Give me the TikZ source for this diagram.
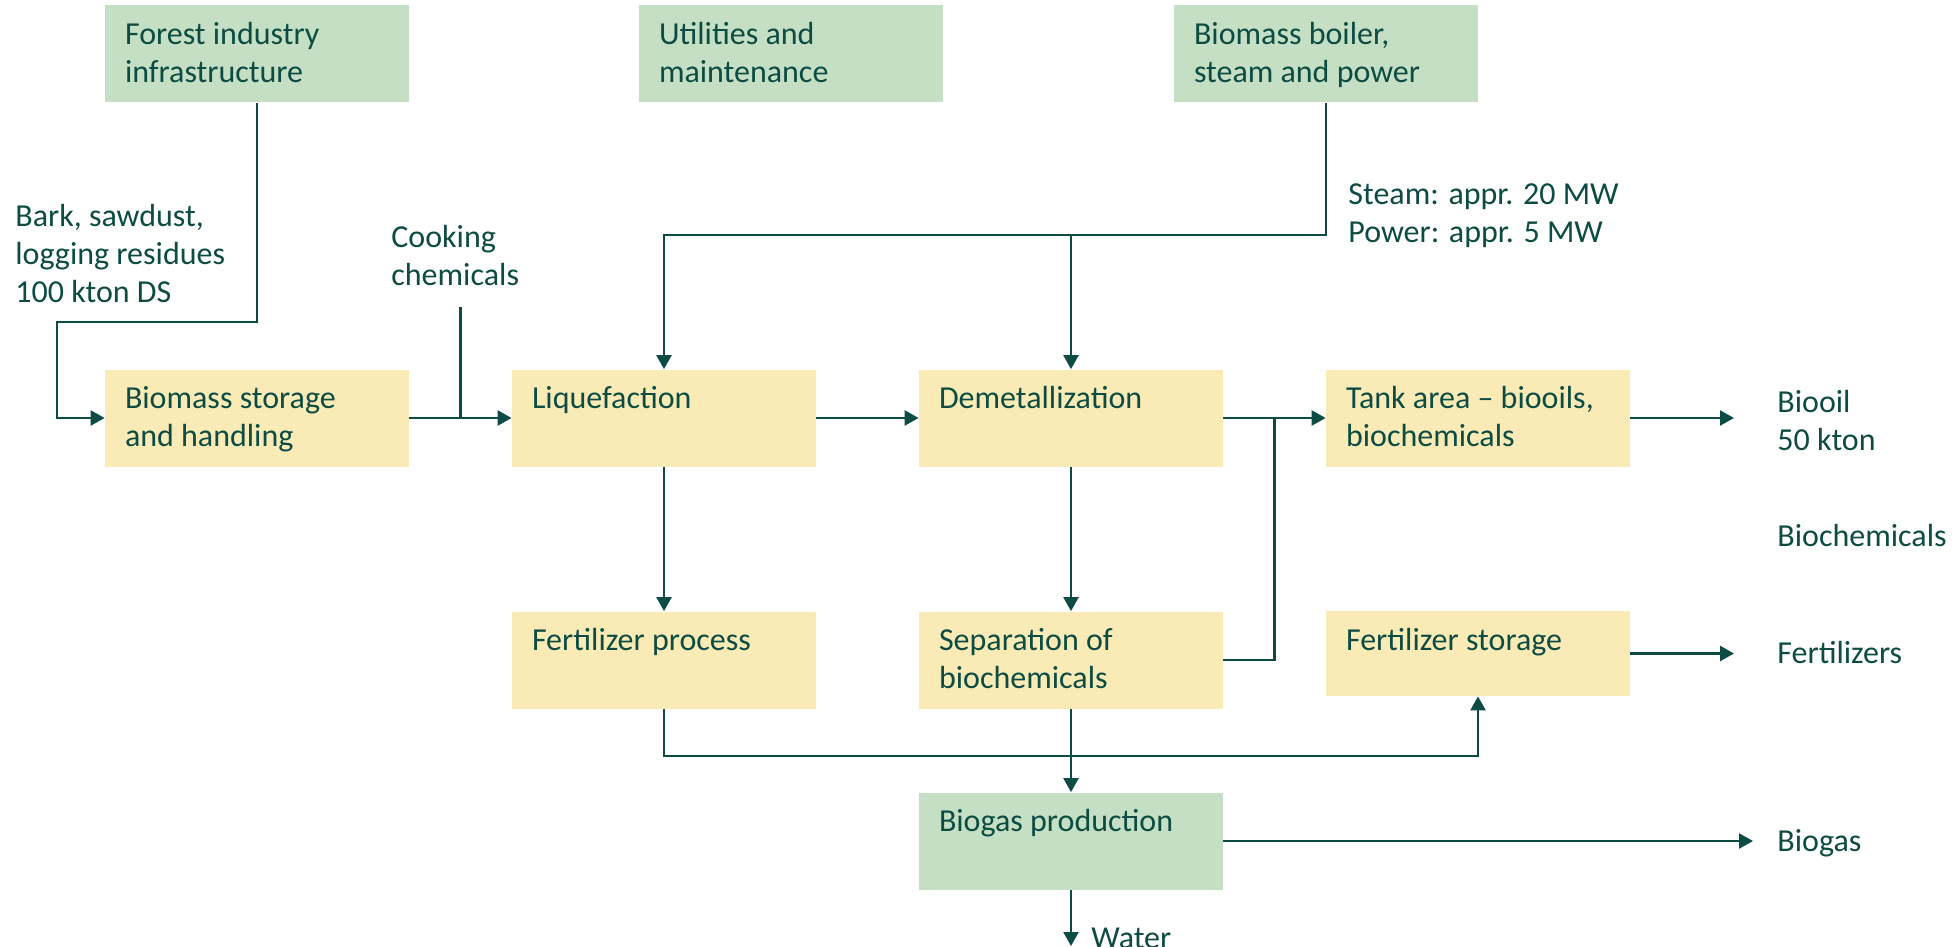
\documentclass[tikz,border=0pt]{standalone}
\usepackage{fontspec}
\setmainfont{Carlito}
\usetikzlibrary{arrows.meta,calc}
\definecolor{LineClr}{RGB}{12,76,68}
\definecolor{TextClr}{RGB}{12,76,66}
\definecolor{SiteClr}{RGB}{197,223,196}
\definecolor{ProcClr}{RGB}{249,234,182}

\tikzset{
  box/.style={minimum width=152pt,minimum height=48.5pt,inner sep=0pt,draw=none},
  site/.style={box,fill=SiteClr},
  proc/.style={box,fill=ProcClr},
  txt/.style={text=TextClr,align=left,inner sep=0pt,font=\fontsize{16}{19}\selectfont},
  intxt/.style={txt,anchor=north west,xshift=10pt,yshift=-8.5pt},
  line/.style={draw=LineClr,line width=1.2pt},
  flow/.style={line,-{Triangle[length=7pt,width=7.5pt]}},
}

\begin{document}
\begin{tikzpicture}[x=0.5pt,y=-0.5pt]
\useasboundingbox (0,0) rectangle (1959,947);

\node[site,label={[intxt]north west:{Forest industry\\infrastructure}}] (forest) at (257,54) {};
\node[site,label={[intxt]north west:{Utilities and\\maintenance}}] (util) at (791,54) {};
\node[site,label={[intxt]north west:{Biomass boiler,\\steam and power}}] (boiler) at (1326,54) {};

\node[proc,label={[intxt]north west:{Biomass storage\\and handling}}] (store) at (257,418) {};
\node[proc,label={[intxt]north west:{Liquefaction}}] (liq) at (664,418) {};
\node[proc,label={[intxt]north west:{Demetallization}}] (demet) at (1071,418) {};
\node[proc,label={[intxt]north west:{Tank area -- biooils,\\biochemicals}}] (tank) at (1478,418) {};

\node[proc,label={[intxt]north west:{Fertilizer process}}] (fproc) at (664,660) {};
\node[proc,label={[intxt]north west:{Separation of\\biochemicals}}] (sep) at (1071,660) {};
\node[proc,minimum height=42.5pt,label={[intxt]north west:{Fertilizer storage}}] (fstore) at (1478,653.5) {};
\node[site,label={[intxt]north west:{Biogas production}}] (biogas) at (1071,841) {};

\node[txt,anchor=west] (bark) at (15,254) {Bark, sawdust,\\logging residues\\100 kton DS};
\node[txt,anchor=west] (cook) at (391,256) {Cooking\\chemicals};
\node[txt,anchor=west] (steam) at (1348,216) {Steam: appr. 20 MW\\Power: appr. 5 MW};
\node[txt,anchor=west] (oil) at (1777,421) {Biooil\\50 kton};
\node[txt,anchor=west] (chem) at (1777,536) {Biochemicals};
\node[txt,anchor=west] (fert) at (1777,653) {Fertilizers};
\node[txt,anchor=west] (gas) at (1777,843) {Biogas};
\node[txt,anchor=west] (water) at (1091,938) {Water};

\coordinate (fbend) at (57,322);
\coordinate (sbus) at (0,235);
\coordinate (waterEnd) at (1071,946);

\draw[flow] (forest.south) |- (fbend) |- (store.west);
\draw[flow] (store.east) -- (liq.west);
\draw[line] ($(store.east)!0.5!(liq.west)$) -- ++(0,-111);

\draw[flow] (boiler.south) |- (liq.north |- sbus) -- (liq.north);
\draw[flow] (demet.north |- sbus) -- (demet.north);

\draw[flow] (liq.east) -- (demet.west);
\draw[flow] (demet.east) -- (tank.west);
\draw[line] (sep.east) -| ($(demet.east)!0.5!(tank.west)$);
\draw[flow] (liq.south) -- (fproc.north);
\draw[flow] (demet.south) -- (sep.north);

\draw[flow] (fproc.south) -- ++(0,47) -| (fstore.south);
\draw[flow] (sep.south) -- (biogas.north);
\draw[flow] (biogas.south) -- (waterEnd);

\draw[flow,shorten >=21.5pt] (tank.east) -- (tank.east -| oil.west);
\draw[flow,shorten >=21.5pt] (fstore.east) -- (fstore.east -| fert.west);
\draw[flow,shorten >=12pt] (biogas.east) -- (biogas.east -| gas.west);

\end{tikzpicture}
\end{document}
